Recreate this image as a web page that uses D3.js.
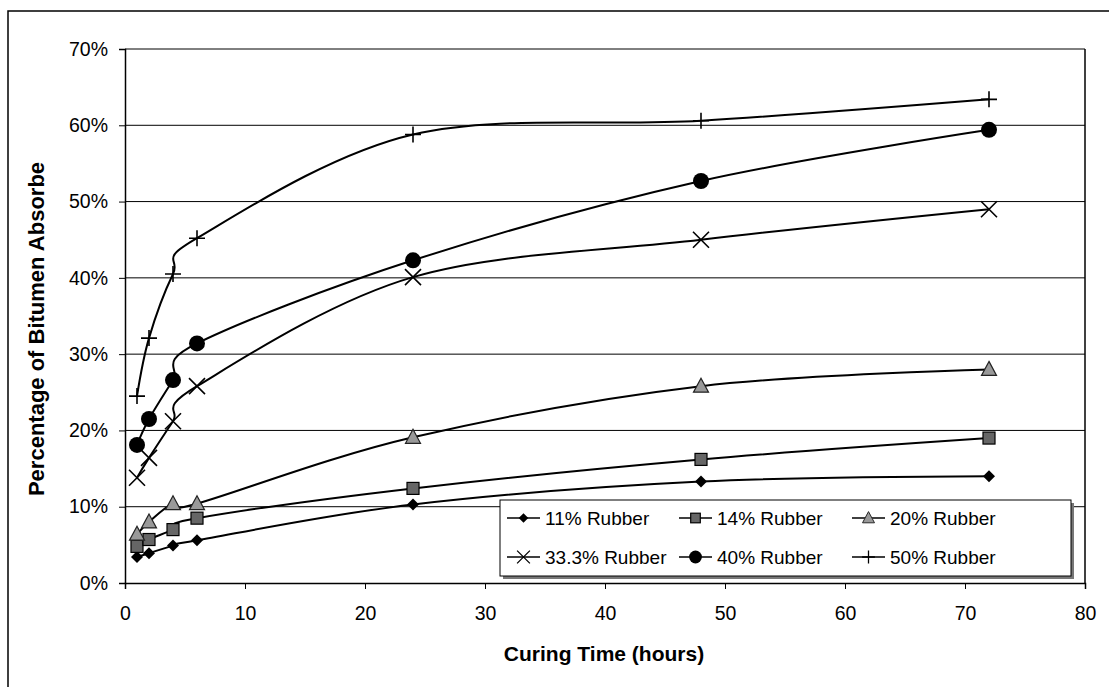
<!DOCTYPE html>
<html>
<head>
<meta charset="utf-8">
<script src="https://cdn.jsdelivr.net/npm/d3@7"></script>
<style>
  body { margin: 0; background: #fff; }
  svg { font-family: "Liberation Sans", Arial, sans-serif; }
</style>
</head>
<body>
<div id="chart"></div>
<script>
"use strict";

// curing times (hours)
var hours = [1, 2, 4, 6, 24, 48, 72];

// percentage of bitumen absorbed, per rubber content
var rubber11 = [3.4, 3.9, 4.9, 5.6, 10.3, 13.3, 14.0];
var rubber14 = [4.8, 5.7, 7.0, 8.5, 12.4, 16.2, 19.0];
var rubber20 = [6.4, 8.0, 10.4, 10.4, 19.1, 25.8, 28.0];
var rubber333 = [13.8, 16.4, 21.2, 25.8, 40.1, 45.0, 49.0];
var rubber40 = [18.1, 21.5, 26.6, 31.4, 42.3, 52.7, 59.4];
var rubber50 = [24.5, 32.1, 40.5, 45.2, 58.8, 60.6, 63.4];

var seriesNames = ["11% Rubber", "14% Rubber", "20% Rubber",
                   "33.3% Rubber", "40% Rubber", "50% Rubber"];
var seriesValues = [rubber11, rubber14, rubber20, rubber333, rubber40, rubber50];
var seriesMarkers = ["diamond", "square", "triangle", "cross", "circle", "plus"];

var xTicks = [0, 10, 20, 30, 40, 50, 60, 70, 80];
var yTicks = [0, 10, 20, 30, 40, 50, 60, 70];

var W = 1109, H = 687;
var plot = { left: 125, right: 1085, top: 49, bottom: 583 };

var svg = d3.select("#chart").append("svg")
  .attr("width", W)
  .attr("height", H);

// outer chart border (only left and top visible in the picture)
svg.append("rect")
  .attr("x", 8).attr("y", 11)
  .attr("width", W + 20).attr("height", H + 20)
  .attr("fill", "#fff")
  .attr("stroke", "#000")
  .attr("stroke-width", 1.5);

var x = d3.scaleLinear().domain([0, 80]).range([plot.left, plot.right]);
var y = d3.scaleLinear().domain([0, 70]).range([plot.bottom, plot.top]);

// gridlines
svg.append("g")
  .selectAll("line")
  .data(yTicks.slice(1))
  .enter()
  .append("line")
  .attr("x1", plot.left).attr("x2", plot.right)
  .attr("y1", function (d) { return y(d); })
  .attr("y2", function (d) { return y(d); })
  .attr("stroke", "#000")
  .attr("stroke-width", 1);

// plot frame (right side)
svg.append("line")
  .attr("x1", plot.right).attr("x2", plot.right)
  .attr("y1", plot.top).attr("y2", plot.bottom)
  .attr("stroke", "#000").attr("stroke-width", 1.5);

// axes
var xAxis = d3.axisBottom(x).tickValues(xTicks).tickSize(6).tickPadding(17);
var yAxis = d3.axisLeft(y).tickValues(yTicks).tickSize(6).tickPadding(11)
  .tickFormat(function (d) { return d + "%"; });

var gx = svg.append("g")
  .attr("transform", "translate(0," + plot.bottom + ")")
  .call(xAxis);
var gy = svg.append("g")
  .attr("transform", "translate(" + plot.left + ",0)")
  .call(yAxis);

[gx, gy].forEach(function (g) {
  g.select(".domain").attr("stroke", "#000").attr("stroke-width", 1.5);
  g.selectAll(".tick line").attr("stroke", "#000");
  g.selectAll(".tick text")
    .attr("fill", "#000")
    .style("font-size", "19.5px")
    .style("font-family", "Liberation Sans, Arial, sans-serif");
});

// axis titles
svg.append("text")
  .attr("x", (plot.left + plot.right) / 2 - 1)
  .attr("y", 661)
  .attr("text-anchor", "middle")
  .style("font-size", "21px")
  .style("font-weight", "bold")
  .text("Curing Time (hours)");

svg.append("text")
  .attr("transform", "translate(44," + 329 + ") rotate(-90)")
  .attr("text-anchor", "middle")
  .style("font-size", "22px")
  .style("font-weight", "bold")
  .text("Percentage of Bitumen Absorbe");

// marker drawing
function drawMarker(g, type, s) {
  s = s || 1;
  switch (type) {
    case "diamond":
      g.append("path").attr("d", "M0,-6L6,0L0,6L-6,0Z")
        .attr("transform", "scale(" + s + ")").attr("fill", "#000");
      break;
    case "square":
      g.append("rect").attr("x", -6 * s).attr("y", -6 * s)
        .attr("width", 12 * s).attr("height", 12 * s)
        .attr("fill", "#666").attr("stroke", "#000").attr("stroke-width", 1.2);
      break;
    case "triangle":
      g.append("path").attr("d", "M0,-8L7.5,6L-7.5,6Z")
        .attr("transform", "scale(" + s + ")")
        .attr("fill", "#999").attr("stroke", "#222").attr("stroke-width", 1.2);
      break;
    case "cross":
      g.append("path").attr("d", "M-8,-8L8,8M-8,8L8,-8")
        .attr("transform", "scale(" + s + ")")
        .attr("stroke", "#000").attr("stroke-width", 1.6).attr("fill", "none");
      break;
    case "circle":
      g.append("circle").attr("r", 8 * s).attr("fill", "#000");
      break;
    case "plus":
      g.append("path").attr("d", "M-8,0L8,0M0,-8L0,8")
        .attr("transform", "scale(" + s + ")")
        .attr("stroke", "#000").attr("stroke-width", 1.6).attr("fill", "none");
      break;
  }
}

var line = d3.line()
  .x(function (d) { return x(d[0]); })
  .y(function (d) { return y(d[1]); })
  .curve(d3.curveCardinal.tension(0));

seriesValues.forEach(function (vals, i) {
  var pts = hours.map(function (h, j) { return [h, vals[j]]; });
  svg.append("path")
    .datum(pts)
    .attr("d", line)
    .attr("fill", "none")
    .attr("stroke", "#000")
    .attr("stroke-width", 2);
  pts.forEach(function (p) {
    var g = svg.append("g")
      .attr("transform", "translate(" + x(p[0]) + "," + y(p[1]) + ")");
    drawMarker(g, seriesMarkers[i]);
  });
});

// legend
var legend = svg.append("g");
legend.append("rect")
  .attr("x", 503).attr("y", 503).attr("width", 571).attr("height", 76)
  .attr("fill", "#777");
legend.append("rect")
  .attr("x", 500).attr("y", 500).attr("width", 571).attr("height", 76)
  .attr("fill", "#fff").attr("stroke", "#000").attr("stroke-width", 1);

var colX = [507, 679, 852];
var rowY = [518, 557];
seriesNames.forEach(function (name, i) {
  var cx = colX[i % 3], cy = rowY[Math.floor(i / 3)];
  legend.append("line")
    .attr("x1", cx).attr("x2", cx + 33)
    .attr("y1", cy).attr("y2", cy)
    .attr("stroke", "#000").attr("stroke-width", 1.5);
  var g = legend.append("g").attr("transform", "translate(" + (cx + 16.5) + "," + cy + ")");
  drawMarker(g, seriesMarkers[i], 0.8);
  legend.append("text")
    .attr("x", cx + 38).attr("y", cy + 7)
    .style("font-size", "19px")
    .text(name);
});
</script>
</body>
</html>
